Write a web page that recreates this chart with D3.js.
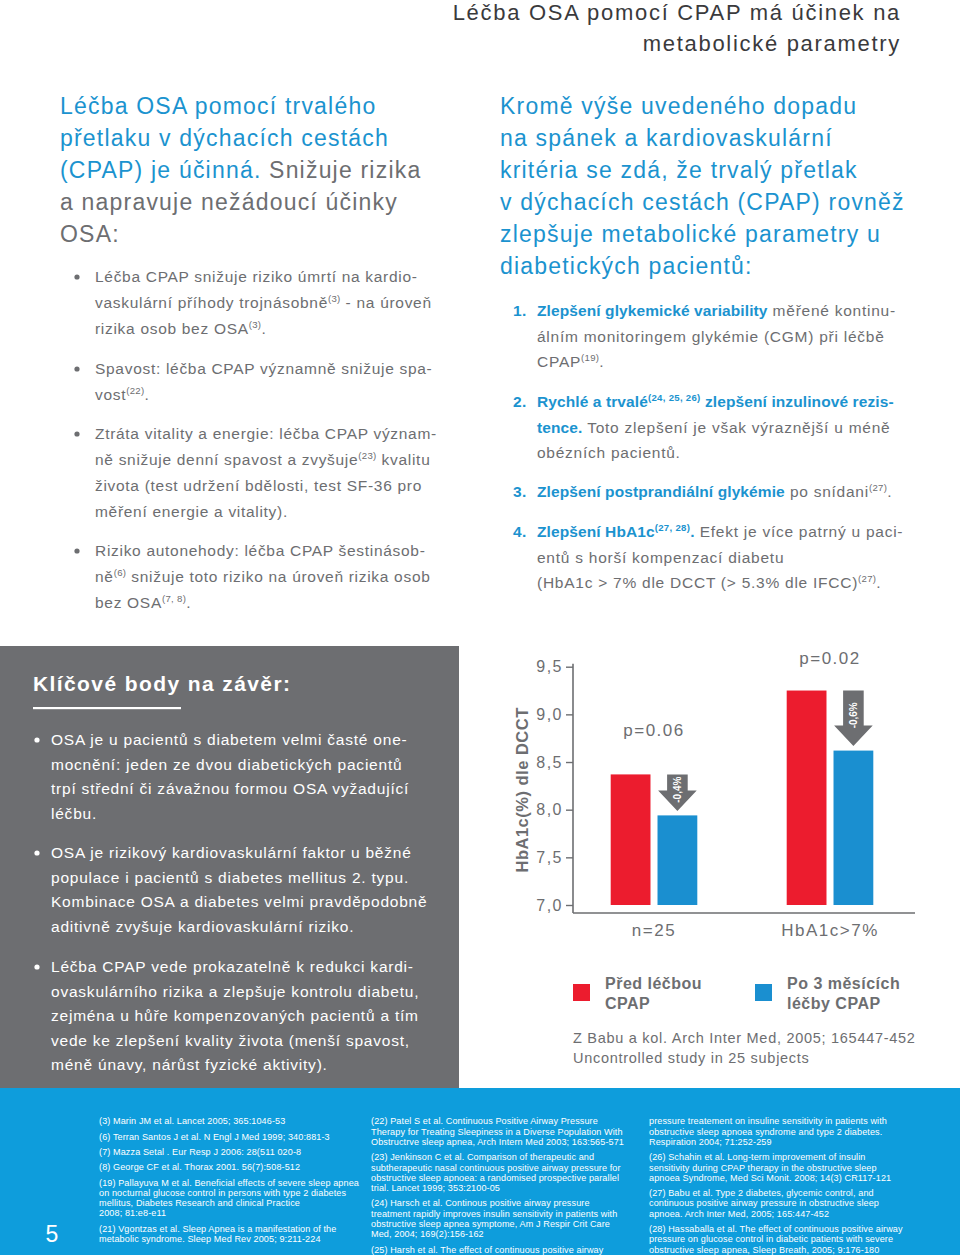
<!DOCTYPE html>
<html><head><meta charset="utf-8">
<script src="https://cdn.jsdelivr.net/npm/d3@7"></script>
<style>
body{margin:0;background:#fff}
svg{display:block;font-family:"Liberation Sans",Arial,Helvetica,sans-serif}
text{white-space:pre}
</style>
</head><body><svg id="page" width="960" height="1255"></svg>
<script>
// ---------- DATA ----------
const categories = ["n=25", "HbA1c>7%"];
const beforeCPAP = [8.37, 9.25];
const afterCPAP = [7.94, 8.62];
const changeLabels = ["-0,4%", "-0,6%"];
const pValues = ["p=0.06", "p=0.02"];
const yTicks = [7.0, 7.5, 8.0, 8.5, 9.0, 9.5];
const yLabel = "HbA1c(%) dle DCCT";
const seriesNames = [["Před léčbou", "CPAP"], ["Po 3 měsících", "léčby CPAP"]];
const sourceLines = ["Z Babu a kol. Arch Inter Med, 2005; 165447-452", "Uncontrolled study in 25 subjects"];

const headerLines = ["Léčba OSA pomocí CPAP má účinek na", "metabolické parametry"];
const leftHeading = [
  [["Léčba OSA pomocí trvalého", "h"]],
  [["přetlaku v dýchacích cestách", "h"]],
  [["(CPAP) je účinná.", "h"], [" Snižuje rizika", ""]],
  "a napravuje nežádoucí účinky",
  "OSA:"
];
const leftBullets = [
  ["Léčba CPAP snižuje riziko úmrtí na kardio-",
   [["vaskulární příhody trojnásobně", ""], ["(3)", "s"], [" - na úroveň", ""]],
   [["rizika osob bez OSA", ""], ["(3)", "s"], [".", ""]]],
  ["Spavost: léčba CPAP významně snižuje spa-",
   [["vost", ""], ["(22)", "s"], [".", ""]]],
  ["Ztráta vitality a energie: léčba CPAP význam-",
   [["ně snižuje denní spavost a zvyšuje", ""], ["(23)", "s"], [" kvalitu", ""]],
   "života (test udržení bdělosti, test SF-36 pro",
   "měření energie a vitality)."],
  ["Riziko autonehody: léčba CPAP šestinásob-",
   [["ně", ""], ["(6)", "s"], [" snižuje toto riziko na úroveň rizika osob", ""]],
   [["bez OSA", ""], ["(7, 8)", "s"], [".", ""]]]
];
const rightHeading = [
  "Kromě výše uvedeného dopadu",
  "na spánek a kardiovaskulární",
  "kritéria se zdá, že trvalý přetlak",
  "v dýchacích cestách (CPAP) rovněž",
  "zlepšuje metabolické parametry u",
  "diabetických pacientů:"
];
const numberedItems = [
  [[["Zlepšení glykemické variability", "b"], [" měřené kontinu-", ""]],
   "álním monitoringem glykémie (CGM) při léčbě",
   [["CPAP", ""], ["(19)", "s"], [".", ""]]],
  [[["Rychlé a trvalé", "b"], ["(24, 25, 26)", "sb"], [" zlepšení inzulinové rezis-", "b"]],
   [["tence.", "b"], [" Toto zlepšení je však výraznější u méně", ""]],
   "obézních pacientů."],
  [[["Zlepšení postprandiální glykémie", "b"], [" po snídani", ""], ["(27)", "s"], [".", ""]]],
  [[["Zlepšení HbA1c", "b"], ["(27, 28)", "sb"], [".", "b"], [" Efekt je více patrný u paci-", ""]],
   "entů s horší kompenzací diabetu",
   [["(HbA1c > 7% dle DCCT (> 5.3% dle IFCC)", ""], ["(27)", "s"], [".", ""]]]
];
const keyTitle = "Klíčové body na závěr:";
const keyBullets = [
  ["OSA je u pacientů s diabetem velmi časté one-",
   "mocnění: jeden ze dvou diabetických pacientů",
   "trpí střední či závažnou formou OSA vyžadující",
   "léčbu."],
  ["OSA je rizikový kardiovaskulární faktor u běžné",
   "populace i pacientů s diabetes mellitus 2. typu.",
   "Kombinace OSA a diabetes velmi pravděpodobně",
   "aditivně zvyšuje kardiovaskulární riziko."],
  ["Léčba CPAP vede prokazatelně k redukci kardi-",
   "ovaskulárního rizika a zlepšuje kontrolu diabetu,",
   "zejména u hůře kompenzovaných pacientů a tím",
   "vede ke zlepšení kvality života (menší spavost,",
   "méně únavy, nárůst fyzické aktivity)."]
];
const refCol1 = [
  ["(3) Marin JM et al. Lancet 2005; 365:1046-53"],
  ["(6) Terran Santos J et al. N Engl J Med 1999; 340:881-3"],
  ["(7) Mazza Setal . Eur Resp J 2006: 28(511 020-8"],
  ["(8) George CF et al. Thorax 2001. 56(7):508-512"],
  ["(19) Pallayuva M et al. Beneficial effects of severe sleep apnea",
   "on nocturnal glucose control in persons with type 2 diabetes",
   "mellitus, Diabetes Research and clinical Practice",
   "2008; 81:e8-e11"],
  ["(21) Vgontzas et al. Sleep Apnea is a manifestation of the",
   "metabolic syndrome. Sleep Med Rev 2005; 9:211-224"]
];
const refCol2 = [
  ["(22) Patel S et al. Continuous Positive Airway Pressure",
   "Therapy for Treating Sleepiness in a Diverse Population With",
   "Obstructrve sleep apnea, Arch Intern Med 2003; 163:565-571"],
  ["(23) Jenkinson C et al. Comparison of therapeutic and",
   "subtherapeutic nasal continuous positive airway pressure for",
   "obstructive sleep apnoea: a randomised prospective parallel",
   "trial. Lancet 1999; 353:2100-05"],
  ["(24) Harsch et al. Continous positive airway pressure",
   "treatment rapidly improves insulin sensitivity in patients with",
   "obstructive sleep apnea symptome, Am J Respir Crit Care",
   "Med, 2004; 169(2):156-162"],
  ["(25) Harsh et al. The effect of continuous positive airway"]
];
const refCol3 = [
  ["pressure treatement on insuline sensitivity in patients with",
   "obstructive sleep apnoea syndrome and type 2 diabetes.",
   "Respiration 2004; 71:252-259"],
  ["(26) Schahin et al. Long-term improvement of insulin",
   "sensitivity during CPAP therapy in the obstructive sleep",
   "apnoea Syndrome, Med Sci Monit. 2008; 14(3) CR117-121"],
  ["(27) Babu et al. Type 2 diabetes, glycemic control, and",
   "continuous positive airway pressure in obstructive sleep",
   "apnoea. Arch Inter Med, 2005; 165:447-452"],
  ["(28) Hassaballa et al. The effect of continuous positive airway",
   "pressure on glucose control in diabetic patients with severe",
   "obstructive sleep apnea, Sleep Breath, 2005; 9:176-180"]
];
const pageNumber = "5";

// ---------- STYLE ----------
const C = {
  text: "#6d6e71", dark: "#3a3a3c", blue: "#1b93cf", red: "#ec1c2e", barBlue: "#1a8fd0",
  box: "#6d6e71", footer: "#0e9ddc", arrow: "#6d6e71"
};

const svg = d3.select("#page");

function drawLine(g, line, x, y, o) {
  const segs = typeof line === "string" ? [[line, ""]] : line;
  const t = g.append("text").attr("x", x).attr("y", y)
    .attr("font-size", o.size).attr("fill", o.fill)
    .attr("letter-spacing", o.ls || 0)
    .attr("font-weight", o.weight || null);
  let shifted = false;
  const sh = o.size * 0.4;
  segs.forEach(([txt, st]) => {
    const ts = t.append("tspan").text(txt);
    const sup = st.includes("s");
    if (st.includes("b")) ts.attr("font-weight", "bold").attr("letter-spacing", 0.1);
    if (st.includes("b") || st.includes("h")) ts.attr("fill", o.hl);
    if (sup) {
      ts.attr("font-size", o.size * 0.62).attr("letter-spacing", 0.3);
      if (!shifted) { ts.attr("dy", -sh); shifted = true; }
    } else if (shifted) { ts.attr("dy", sh); shifted = false; }
  });
  return t;
}
function drawBlock(g, lines, x, y, lh, o) {
  lines.forEach((l, i) => drawLine(g, l, x, y + i * lh, o));
}

// ---------- HEADER ----------
headerLines.forEach((l, i) => {
  svg.append("text").attr("x", 901).attr("y", 20 + i * 31).attr("text-anchor", "end")
    .attr("font-size", 22).attr("fill", C.dark).attr("letter-spacing", 1.7).text(l);
});

// ---------- LEFT COLUMN ----------
const gl = svg.append("g");
drawBlock(gl, leftHeading, 60, 114, 32, { size: 23, fill: C.text, hl: C.blue, ls: 1.2 });
const leftStarts = [282, 374, 439, 556];
leftBullets.forEach((b, i) => {
  gl.append("circle").attr("cx", 77).attr("cy", leftStarts[i] - 5).attr("r", 2.6).attr("fill", C.text);
  drawBlock(gl, b, 95, leftStarts[i], 26, { size: 15.5, fill: C.text, hl: C.blue, ls: 0.7 });
});

// ---------- RIGHT COLUMN ----------
const gr = svg.append("g");
drawBlock(gr, rightHeading, 500, 114, 32, { size: 23, fill: C.blue, hl: C.blue, ls: 1.2 });
const numStarts = [316, 407, 497, 537];
numberedItems.forEach((it, i) => {
  gr.append("text").attr("x", 513).attr("y", numStarts[i]).attr("font-size", 15.5)
    .attr("font-weight", "bold").attr("fill", C.blue).attr("letter-spacing", 0.5).text((i + 1) + ".");
  drawBlock(gr, it, 537, numStarts[i], 25.7, { size: 15.5, fill: C.text, hl: C.blue, ls: 0.75 });
});

// ---------- KEY POINTS BOX ----------
const gb = svg.append("g");
gb.append("rect").attr("x", 0).attr("y", 646).attr("width", 459).attr("height", 442).attr("fill", C.box);
gb.append("text").attr("x", 33).attr("y", 691).attr("font-size", 21).attr("font-weight", "bold")
  .attr("fill", "#fff").attr("letter-spacing", 1.4).text(keyTitle);
gb.append("rect").attr("x", 33).attr("y", 707).attr("width", 148).attr("height", 2.2).attr("fill", "#fff");
const keyStarts = [745, 858, 972];
keyBullets.forEach((b, i) => {
  gb.append("circle").attr("cx", 37).attr("cy", keyStarts[i] - 5).attr("r", 2.6).attr("fill", "#fff");
  drawBlock(gb, b, 51, keyStarts[i], 24.5, { size: 15.5, fill: "#fff", hl: "#fff", ls: 0.78 });
});

// ---------- CHART ----------
const gc = svg.append("g");
const y = d3.scaleLinear().domain([7, 9.5]).range([905, 666.7]);
const x = d3.scaleBand().domain(categories).range([566, 918]);
const xs = d3.scaleBand().domain([0, 1]).range([-43.3, 43.3]).paddingInner(0.15);
const axisX = 573;
const fmt = v => d3.format(".1f")(v).replace(".", ",");

const yAxis = d3.axisLeft(y).tickValues(yTicks).tickFormat(fmt).tickSize(7).tickPadding(3);
const ya = gc.append("g").attr("transform", `translate(${axisX},0)`).call(yAxis);
ya.select(".domain").remove();
ya.selectAll(".tick line").attr("stroke", C.text).attr("stroke-width", 1.4);
ya.selectAll(".tick text").attr("font-size", 16).attr("fill", C.text).attr("letter-spacing", 1.5)
  .attr("font-family", "Liberation Sans, Arial, sans-serif");
gc.append("line").attr("x1", axisX).attr("x2", axisX).attr("y1", y(9.5) - 3).attr("y2", 913)
  .attr("stroke", C.text).attr("stroke-width", 1.6);
gc.append("line").attr("x1", axisX).attr("x2", 915).attr("y1", 913).attr("y2", 913)
  .attr("stroke", C.text).attr("stroke-width", 1.6);

gc.append("text").attr("transform", `translate(528,${(y(9.5) + 913) / 2}) rotate(-90)`)
  .attr("text-anchor", "middle").attr("font-size", 16.5).attr("font-weight", "bold")
  .attr("fill", C.text).attr("letter-spacing", 0.5).text(yLabel);

const groups = gc.selectAll(".grp").data(categories).join("g")
  .attr("transform", d => `translate(${x(d) + x.bandwidth() / 2},0)`);
groups.append("rect").attr("x", xs(0)).attr("width", xs.bandwidth())
  .attr("y", (d, i) => y(beforeCPAP[i])).attr("height", (d, i) => y(7) - y(beforeCPAP[i])).attr("fill", C.red);
groups.append("rect").attr("x", xs(1)).attr("width", xs.bandwidth())
  .attr("y", (d, i) => y(afterCPAP[i])).attr("height", (d, i) => y(7) - y(afterCPAP[i])).attr("fill", C.barBlue);

// change arrows
groups.each(function (d, i) {
  const g = d3.select(this);
  const cx = xs(1) + xs.bandwidth() / 2;
  const top = y(beforeCPAP[i]);
  const tip = y(afterCPAP[i]) - 4.5;
  const headH = 20.5, sw = 10.3, hw = 19.3;
  const p = d3.path();
  p.moveTo(cx - sw, top); p.lineTo(cx + sw, top); p.lineTo(cx + sw, tip - headH);
  p.lineTo(cx + hw, tip - headH); p.lineTo(cx, tip); p.lineTo(cx - hw, tip - headH);
  p.lineTo(cx - sw, tip - headH); p.closePath();
  g.append("path").attr("d", p.toString()).attr("fill", C.arrow);
  const ty = (top + tip) / 2 - 3;
  g.append("text").attr("transform", `translate(${cx + 3.5},${ty}) rotate(-90)`)
    .attr("text-anchor", "middle").attr("font-size", 10).attr("font-weight", "bold")
    .attr("fill", "#fff").text(changeLabels[i]);
  g.append("text").attr("x", 0).attr("y", i === 0 ? 736 : 664).attr("text-anchor", "middle")
    .attr("font-size", 17).attr("fill", C.text).attr("letter-spacing", 1.5).text(pValues[i]);
  g.append("text").attr("x", 0).attr("y", 936).attr("text-anchor", "middle")
    .attr("font-size", 17).attr("fill", C.text).attr("letter-spacing", 1.5).text(d);
});

// legend
const legX = [573, 755], legTX = [605, 787], legColors = [C.red, C.barBlue];
seriesNames.forEach((nm, i) => {
  gc.append("rect").attr("x", legX[i]).attr("y", 984).attr("width", 17).attr("height", 17).attr("fill", legColors[i]);
  nm.forEach((l, j) => gc.append("text").attr("x", legTX[i]).attr("y", 989 + j * 20)
    .attr("font-size", 16).attr("font-weight", "bold").attr("fill", C.text).attr("letter-spacing", 0.5).text(l));
});
sourceLines.forEach((l, i) => gc.append("text").attr("x", 573).attr("y", 1043 + i * 20)
  .attr("font-size", 14.5).attr("fill", C.text).attr("letter-spacing", 0.72).text(l));

// ---------- FOOTER ----------
const gf = svg.append("g");
gf.append("rect").attr("x", 0).attr("y", 1088).attr("width", 960).attr("height", 167).attr("fill", C.footer);
gf.append("text").attr("x", 52).attr("y", 1242).attr("text-anchor", "middle").attr("font-size", 23)
  .attr("fill", "#fff").text(pageNumber);
function drawRefs(col, xx) {
  let yy = 1124.3;
  col.forEach(entry => {
    entry.forEach((l, j) => {
      gf.append("text").attr("x", xx).attr("y", yy).attr("font-size", 9.1).attr("fill", "#fff")
        .attr("letter-spacing", 0.1).text(l);
      if (j < entry.length - 1) yy += 10.3;
    });
    yy += 15.3;
  });
}
drawRefs(refCol1, 99);
drawRefs(refCol2, 371);
drawRefs(refCol3, 649);
</script>
</body></html>
